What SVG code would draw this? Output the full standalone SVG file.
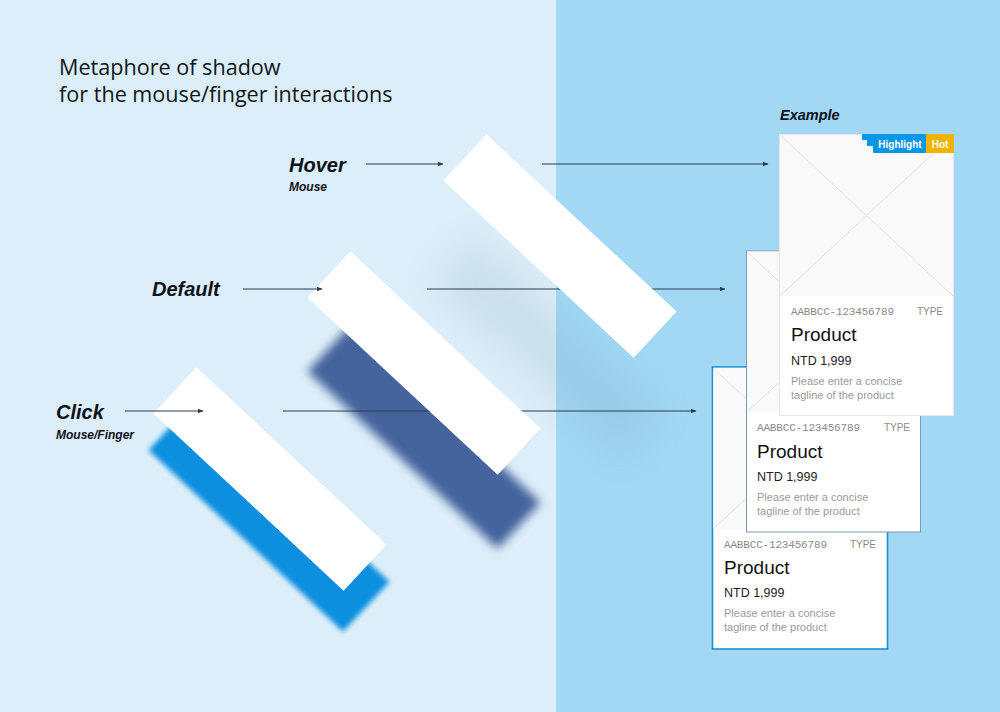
<svg xmlns="http://www.w3.org/2000/svg" width="1000" height="712" viewBox="0 0 1000 712">
<defs>
<style>
.title{font-family:"Open Sans","Liberation Sans",Arial,sans-serif;font-size:21.6px;fill:#121619}
.state{font-family:"Liberation Sans",Arial,sans-serif;font-size:20px;font-weight:bold;font-style:italic;fill:#0d1117}
.sub{font-family:"Liberation Sans",Arial,sans-serif;font-size:12px;font-weight:bold;font-style:italic;fill:#0d1117}
.bar{fill:#ffffff}
.conn{stroke:#2b3b50;stroke-width:1;fill:none;marker-end:url(#arr)}
.code{font-family:"Liberation Mono",monospace;font-size:11px;fill:#8a8a8a}
.type{font-family:"Liberation Sans",Arial,sans-serif;font-size:10px;fill:#8a8a8a;text-anchor:end}
.prod{font-family:"Liberation Sans",Arial,sans-serif;font-size:19px;fill:#111}
.price{font-family:"Liberation Sans",Arial,sans-serif;font-size:12.5px;fill:#222}
.tag{font-family:"Liberation Sans",Arial,sans-serif;font-size:11px;fill:#9a9a9a}
.img{fill:#f9f9f9}
.x{stroke:#e4e4e4;stroke-width:1}
.badge{font-family:"Liberation Sans",Arial,sans-serif;font-size:10px;font-weight:bold;fill:#fff;text-anchor:middle}
</style>
<marker id="arr" viewBox="0 0 6 6" refX="5.5" refY="3" markerWidth="6" markerHeight="6" markerUnits="userSpaceOnUse" orient="auto">
<path d="M0,0.5 L6,3 L0,5.5 Z" fill="#2b3b50"/>
</marker>
<filter id="blurS" x="-30%" y="-30%" width="160%" height="160%"><feGaussianBlur stdDeviation="2.5"/></filter>
<filter id="blurM" x="-30%" y="-30%" width="160%" height="160%"><feGaussianBlur stdDeviation="5"/></filter>
<filter id="blurL" x="-50%" y="-50%" width="200%" height="200%"><feGaussianBlur stdDeviation="18"/></filter>
<rect id="barShape" x="-130" y="-31.5" width="260" height="63"/>
</defs>

<rect x="0" y="0" width="556" height="712" fill="#dceef9"/>
<rect x="556" y="0" width="444" height="712" fill="#a2d8f3"/>

<g id="title">
<text class="title" x="59" y="75">Metaphore of shadow</text>
<text class="title" x="59" y="102">for the mouse/finger interactions</text>
</g>

<g id="shadows">
<use href="#barShape" transform="translate(548,348) rotate(43)" fill="#607f98" opacity="0.14" filter="url(#blurL)"/>
<use href="#barShape" transform="translate(424,437) rotate(43)" fill="#44639d" filter="url(#blurM)"/>
<rect x="-133" y="-34" width="266" height="68" transform="translate(269,516) rotate(43)" fill="#0b8fe0" filter="url(#blurS)"/>
</g>

<g id="connectors">
<line class="conn" x1="542" y1="164" x2="768" y2="164"/>
<line class="conn" x1="427" y1="289" x2="725" y2="289"/>
<line class="conn" x1="283" y1="411" x2="696" y2="411"/>
</g>

<g id="node-click">
<use class="bar" href="#barShape" transform="translate(270,479) rotate(43)"/>
<text class="state" x="56" y="419">Click</text>
<text class="sub" x="56" y="439">Mouse/Finger</text>
</g>

<g id="node-default">
<use class="bar" href="#barShape" transform="translate(424,363) rotate(43)"/>
<text class="state" x="152" y="296">Default</text>
</g>

<g id="node-hover">
<use class="bar" href="#barShape" transform="translate(560,246) rotate(43)"/>
<text class="state" x="289" y="172">Hover</text>
<text class="sub" x="289" y="191">Mouse</text>
</g>

<g id="connectors-front">
<line class="conn" x1="366" y1="164" x2="443" y2="164"/>
<line class="conn" x1="243" y1="289" x2="322" y2="289"/>
<line class="conn" x1="125" y1="411" x2="203" y2="411"/>
</g>

<g id="card-click">
<rect x="712.5" y="367" width="175" height="282" fill="#fff" stroke="#1b8fd2" stroke-width="1.6"/>
<rect class="img" x="713.3" y="367.8" width="173.4" height="161"/>
<line class="x" x1="713" y1="368" x2="887" y2="529"/>
<line class="x" x1="887" y1="368" x2="713" y2="529"/>
<text class="code" x="724" y="548" textLength="103">AABBCC-123456789</text>
<text class="type" x="876" y="548">TYPE</text>
<text class="prod" x="724" y="574">Product</text>
<text class="price" x="724" y="597">NTD 1,999</text>
<text class="tag" x="724" y="617">Please enter a concise</text>
<text class="tag" x="724" y="631">tagline of the product</text>
</g>

<g id="card-default">
<rect x="746.5" y="251" width="174" height="281" fill="#fff" stroke="#7f9ab5" stroke-width="1"/>
<rect class="img" x="747" y="251.5" width="173" height="161"/>
<line class="x" x1="747" y1="252" x2="920" y2="412"/>
<line class="x" x1="920" y1="252" x2="747" y2="412"/>
<text class="code" x="757" y="431" textLength="103">AABBCC-123456789</text>
<text class="type" x="910" y="431">TYPE</text>
<text class="prod" x="757" y="458">Product</text>
<text class="price" x="757" y="481">NTD 1,999</text>
<text class="tag" x="757" y="501">Please enter a concise</text>
<text class="tag" x="757" y="515">tagline of the product</text>
</g>

<g id="card-hover">
<text class="state" x="780" y="120" style="font-size:14.5px">Example</text>
<rect x="779.5" y="134.5" width="174" height="281" fill="#fff" stroke="#e6e6e6" stroke-width="1"/>
<rect class="img" x="780" y="135" width="173" height="161"/>
<line class="x" x1="780" y1="135" x2="953" y2="296"/>
<line class="x" x1="953" y1="135" x2="780" y2="296"/>
<polygon points="862,134 926,134 926,153 873,153 873,146 867,146 867,140 862,140" fill="#0a96e6"/>
<rect x="926" y="134" width="28" height="19" fill="#f0b400"/>
<text class="badge" x="900" y="148">Highlight</text>
<text class="badge" x="940" y="148">Hot</text>
<text class="code" x="791" y="315" textLength="103">AABBCC-123456789</text>
<text class="type" x="943" y="315">TYPE</text>
<text class="prod" x="791" y="341">Product</text>
<text class="price" x="791" y="365">NTD 1,999</text>
<text class="tag" x="791" y="385">Please enter a concise</text>
<text class="tag" x="791" y="399">tagline of the product</text>
</g>
</svg>
